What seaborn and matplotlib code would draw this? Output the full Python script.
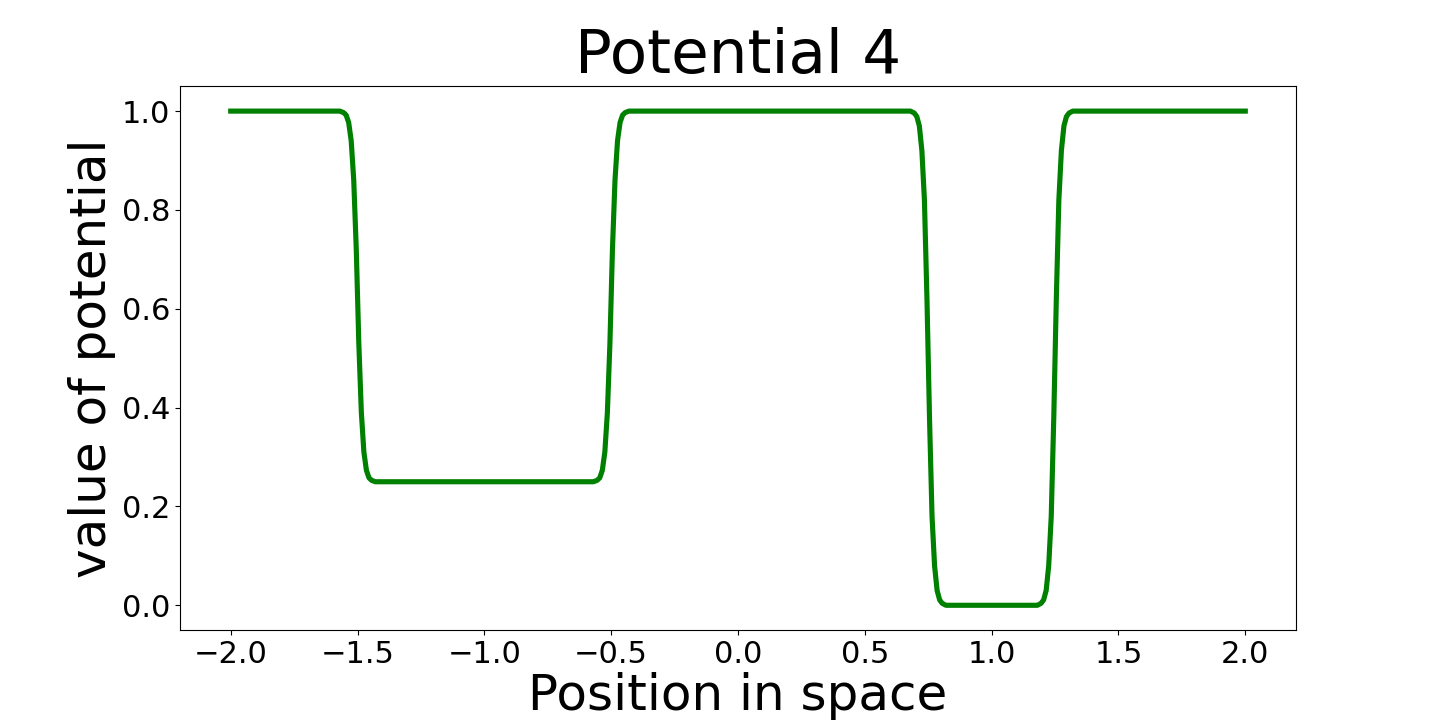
import matplotlib
matplotlib.use("Agg")
import matplotlib.pyplot as plt
import seaborn as sns
import pandas as pd

# positions (flat parts + the four steep steps)
position = [-2.0,
            -1.57, -1.555, -1.545, -1.535, -1.525, -1.515, -1.505, -1.50, -1.495,
            -1.485, -1.475, -1.465, -1.455, -1.445, -1.43,
            -0.57, -0.555, -0.545, -0.535, -0.525, -0.515, -0.505, -0.50, -0.495,
            -0.485, -0.475, -0.465, -0.455, -0.445, -0.43,
            0.68, 0.695, 0.705, 0.715, 0.725, 0.735, 0.745, 0.75, 0.755,
            0.765, 0.775, 0.785, 0.795, 0.805, 0.82,
            1.18, 1.195, 1.205, 1.215, 1.225, 1.235, 1.245, 1.25, 1.255,
            1.265, 1.275, 1.285, 1.295, 1.305, 1.32,
            2.0]
potential = [1.0,
             1.0, 0.997, 0.992, 0.977, 0.94, 0.86, 0.72, 0.625, 0.53,
             0.39, 0.31, 0.273, 0.258, 0.253, 0.25,
             0.25, 0.253, 0.258, 0.273, 0.31, 0.39, 0.53, 0.625, 0.72,
             0.86, 0.94, 0.977, 0.992, 0.997, 1.0,
             1.0, 0.996, 0.989, 0.97, 0.92, 0.82, 0.62, 0.5, 0.38,
             0.18, 0.08, 0.03, 0.011, 0.004, 0.0,
             0.0, 0.004, 0.011, 0.03, 0.08, 0.18, 0.38, 0.5, 0.62,
             0.82, 0.92, 0.97, 0.989, 0.996, 1.0,
             1.0]

df = pd.DataFrame({"x": position, "V": potential})

fig, ax = plt.subplots(figsize=(14.4, 7.2), dpi=100)
fig.subplots_adjust(left=0.125, right=0.9, top=0.88, bottom=0.125)

sns.lineplot(data=df, x="x", y="V", color="green", linewidth=3.7, ax=ax)

ax.set_title("Potential 4", fontsize=44)
ax.set_xlabel("Position in space", fontsize=36, labelpad=2)
ax.set_ylabel("value of potential", fontsize=36)
ax.tick_params(labelsize=22)

fig.savefig("out.png", dpi=100)
